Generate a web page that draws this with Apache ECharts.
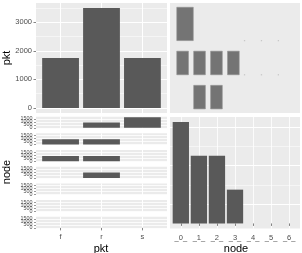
<!DOCTYPE html>
<html><head><meta charset="utf-8">
<script src="https://cdn.jsdelivr.net/npm/echarts@6/dist/echarts.min.js"></script>
<style>html,body{margin:0;padding:0;background:#fff}#c{width:302px;height:253px}</style>
</head><body><div id="c"></div><script>
// ---- data ----
const pktCategories = ['f', 'r', 's'];
const nodeCategories = ['_0_', '_1_', '_2_', '_3_', '_4_', '_5_', '_6_'];
// counts per node (one row per node), columns f, r, s
const countsByNode = [
  [0, 875, 1750],
  [875, 875, 0],
  [875, 875, 0],
  [0, 875, 0],
  [0, 0, 0],
  [0, 0, 0],
  [0, 0, 0]
];
// empty cells drawn as tiny dots in the ratio panel: [node index, pkt index]
const emptyCells = [[4, 1], [5, 1], [6, 1], [4, 2], [5, 2], [6, 2]];
const pktTicks = [0, 1000, 2000, 3000];
const facetTicks = [0, 500, 1000, 1500];

// ---- derived ----
const pktTotals = pktCategories.map((_, j) => countsByNode.reduce((s, r) => s + r[j], 0));
const nodeTotals = countsByNode.map(r => r.reduce((a, b) => a + b, 0));
const maxCell = Math.max(...countsByNode.flat());

const FONT = 'Liberation Sans';
const BG = '#EBEBEB';
const BAR = '#595959';
const TXT = '#4D4D4D';
const TICK = '#333333';
const plain = v => String(Math.round(v));

const grids = [], xAxes = [], yAxes = [], series = [];
function addGrid(g) { grids.push(Object.assign({ show: true, backgroundColor: BG, borderWidth: 0, containLabel: false }, g)); return grids.length - 1; }

function majorLine(w) { return { show: true, lineStyle: { color: '#FFFFFF', width: w } }; }

// top-left: pkt bars
const pktMax = Math.max(...pktTotals);
let g = addGrid({ left: 36, top: 3, width: 131, height: 110 });
xAxes.push({ gridIndex: g, type: 'value', min: 0.4, max: pktCategories.length + 0.6,
  axisLine: { show: false }, axisTick: { show: false, customValues: pktCategories.map((_, i) => i + 1) },
  axisLabel: { show: false }, splitLine: majorLine(1) });
let yi = yAxes.length;
yAxes.push({ gridIndex: g, type: 'value', min: -pktMax * 0.05, max: pktMax * 1.05,
  axisLine: { show: false },
  axisTick: { show: true, length: 2.5, lineStyle: { color: TICK, width: 0.6 }, customValues: pktTicks },
  axisLabel: { show: true, customValues: pktTicks, formatter: plain, hideOverlap: false, fontSize: 7.5, fontFamily: FONT, color: TXT, margin: 4 },
  splitLine: majorLine(1) });
// minor lines
yAxes.push({ gridIndex: g, type: 'value', min: -pktMax * 0.05, max: pktMax * 1.05,
  axisLine: { show: false }, axisTick: { show: false, customValues: [500, 1500, 2500, 3500] },
  axisLabel: { show: false }, splitLine: majorLine(0.5) });
series.push({ type: 'bar', xAxisIndex: xAxes.length - 1, yAxisIndex: yi, barWidth: 36.8,
  itemStyle: { color: BAR }, data: pktTotals.map((v, i) => [i + 1, v]), silent: true, animation: false });

// top-right: ratio tiles
g = addGrid({ left: 170, top: 3, width: 130, height: 110 });
xAxes.push({ gridIndex: g, type: 'value', min: -0.4, max: 7.28, show: false });
yAxes.push({ gridIndex: g, type: 'value', min: -0.12, max: 3.1, show: false });
const tileData = [];
countsByNode.forEach((row, i) => row.forEach((c, j) => { if (c > 0) tileData.push([i, j, c]); }));
series.push({ type: 'custom', xAxisIndex: xAxes.length - 1, yAxisIndex: yAxes.length - 1, animation: false, silent: true,
  data: tileData,
  renderItem(params, api) {
    const x = api.value(0), y = api.value(1), c = api.value(2);
    const f = Math.sqrt(c / maxCell) * 0.975;
    const p0 = api.coord([x, y]);
    const p1 = api.coord([x + f, y + f]);
    return { type: 'rect', shape: { x: p0[0], y: p1[1], width: p1[0] - p0[0], height: p0[1] - p1[1] },
      style: { fill: '#747474', stroke: '#909090', lineWidth: 0.6 } };
  } });
series.push({ type: 'custom', xAxisIndex: xAxes.length - 1, yAxisIndex: yAxes.length - 1, animation: false, silent: true,
  data: emptyCells,
  renderItem(params, api) {
    const p = api.coord([api.value(0), api.value(1)]);
    return { type: 'rect', shape: { x: p[0] - 0.6, y: p[1] - 0.6, width: 1.3, height: 1.3 }, style: { fill: '#C8C8C8' } };
  } });

// bottom-left: facet bars (one strip per node)
const facetMax = maxCell;
const facetLabelsA = facetTicks.filter((_, k) => k % 2 === 0);
const facetLabelsB = facetTicks.filter((_, k) => k % 2 === 1);
nodeCategories.forEach((n, i) => {
  const gi = addGrid({ left: 36, top: 116.7 + 16.67 * i, width: 131, height: 11.7 });
  const last = i === nodeCategories.length - 1;
  xAxes.push({ gridIndex: gi, type: 'value', min: 0.4, max: pktCategories.length + 0.6,
    axisLine: { show: false },
    axisTick: { show: last, length: 2.5, lineStyle: { color: TICK, width: 0.6 }, customValues: pktCategories.map((_, k) => k + 1) },
    axisLabel: { show: last, customValues: pktCategories.map((_, k) => k + 1), formatter: v => pktCategories[Math.round(v) - 1],
      fontSize: 7.5, fontFamily: FONT, color: TXT, margin: 5 },
    splitLine: majorLine(1) });
  const yIdx = yAxes.length;
  const labelStyle = { show: true, formatter: plain, hideOverlap: false, fontSize: 5.4, fontFamily: FONT, color: TXT, margin: 3.5 };
  yAxes.push({ gridIndex: gi, type: 'value', min: -facetMax * 0.05, max: facetMax * 1.05,
    axisLine: { show: false },
    axisTick: { show: true, length: 2, lineStyle: { color: TICK, width: 0.5 }, customValues: facetTicks },
    axisLabel: Object.assign({ customValues: facetLabelsA }, labelStyle),
    splitLine: majorLine(0.8) });
  yAxes.push({ gridIndex: gi, type: 'value', position: 'left', min: -facetMax * 0.05, max: facetMax * 1.05,
    axisLine: { show: false }, axisTick: { show: false, customValues: facetLabelsB },
    axisLabel: Object.assign({ customValues: facetLabelsB }, labelStyle),
    splitLine: { show: false } });
  series.push({ type: 'bar', xAxisIndex: xAxes.length - 1, yAxisIndex: yIdx, barWidth: 36.8, animation: false, silent: true,
    itemStyle: { color: BAR }, data: countsByNode[i].map((v, k) => [k + 1, v]) });
});

// bottom-right: node bars
const nodeMax = Math.max(...nodeTotals);
g = addGrid({ left: 170, top: 117, width: 130, height: 111.5 });
xAxes.push({ gridIndex: g, type: 'value', min: 0.4, max: nodeCategories.length + 0.6,
  axisLine: { show: false },
  axisTick: { show: true, length: 2.5, lineStyle: { color: TICK, width: 0.6 }, customValues: nodeCategories.map((_, k) => k + 1) },
  axisLabel: { show: true, customValues: nodeCategories.map((_, k) => k + 1), formatter: v => nodeCategories[Math.round(v) - 1],
    interval: 0, hideOverlap: false, fontSize: 7.5, fontFamily: FONT, color: TXT, margin: 5 },
  splitLine: majorLine(0.8) });
yi = yAxes.length;
yAxes.push({ gridIndex: g, type: 'value', min: -nodeMax * 0.05, max: nodeMax * 1.05,
  axisLine: { show: false }, axisTick: { show: false, customValues: [500, 1500, 2500] }, axisLabel: { show: false },
  splitLine: majorLine(1) });
yAxes.push({ gridIndex: g, type: 'value', min: -nodeMax * 0.05, max: nodeMax * 1.05,
  axisLine: { show: false }, axisTick: { show: false, customValues: [1000, 2000] }, axisLabel: { show: false },
  splitLine: majorLine(0.5) });
series.push({ type: 'bar', xAxisIndex: xAxes.length - 1, yAxisIndex: yi, barWidth: 16.3, animation: false, silent: true,
  itemStyle: { color: BAR }, data: nodeTotals.map((v, k) => [k + 1, v]) });

const titleStyle = { fontSize: 11, fontFamily: FONT, fill: '#000000', textAlign: 'center', textVerticalAlign: 'middle' };
const chart = echarts.init(document.getElementById('c'), null, { renderer: 'canvas' });
chart.setOption({
  animation: false,
  grid: grids, xAxis: xAxes, yAxis: yAxes, series,
  graphic: [
    { type: 'text', x: 7, y: 58, rotation: Math.PI / 2, style: Object.assign({ text: 'pkt' }, titleStyle) },
    { type: 'text', x: 7, y: 172, rotation: Math.PI / 2, style: Object.assign({ text: 'node' }, titleStyle) },
    { type: 'text', x: 101, y: 248.5, style: Object.assign({ text: 'pkt' }, titleStyle) },
    { type: 'text', x: 236, y: 248.5, style: Object.assign({ text: 'node' }, titleStyle) }
  ]
});
</script></body></html>
